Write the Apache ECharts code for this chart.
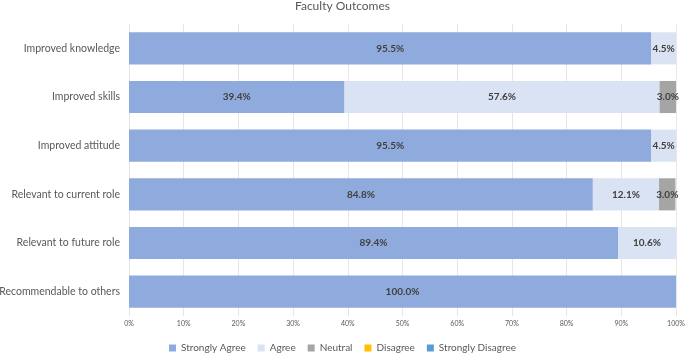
<!DOCTYPE html>
<html>
<head>
<meta charset="utf-8">
<script src="https://cdn.jsdelivr.net/npm/echarts@6/dist/echarts.min.js"></script>
<style>
  html, body { margin: 0; padding: 0; background: #fff; }
  #chart { width: 685px; height: 353px; }
</style>
</head>
<body>
<div id="chart"></div>
<script>
const categories = ['Improved knowledge', 'Improved skills', 'Improved attitude',
  'Relevant to current role', 'Relevant to future role', 'Recommendable to others'];
const stronglyAgree = [95.5, 39.4, 95.5, 84.8, 89.4, 100.0];
const agree = [4.5, 57.6, 4.5, 12.1, 10.6, 0];
const neutral = [0, 3.0, 0, 3.0, 0, 0];
const disagree = [0, 0, 0, 0, 0, 0];
const stronglyDisagree = [0, 0, 0, 0, 0, 0];
const tickLabels = ['0%', '10%', '20%', '30%', '40%', '50%', '60%', '70%', '80%', '90%', '100%'];

const font = 'Lato';
const chart = echarts.init(document.getElementById('chart'));

function bar(name, data, color) {
  return {
    name: name,
    type: 'bar',
    stack: 'total',
    data: data,
    barCategoryGap: '34%',
    itemStyle: { color: color },
    label: {
      show: true,
      position: 'inside',
      color: '#404040',
      fontFamily: font,
      fontWeight: 'bold',
      fontSize: 10,
      formatter: p => p.value > 0 ? p.value.toFixed(1) + '%' : ''
    }
  };
}

chart.setOption({
  animation: false,
  title: {
    text: 'Faculty Outcomes',
    left: 'center',
    top: 0,
    padding: [0, 5, 0, 5],
    textStyle: { fontFamily: font, fontSize: 12, fontWeight: 'normal', color: '#595959' }
  },
  legend: {
    bottom: 0,
    left: 'center',
    padding: [0, 5, 0, 5],
    itemWidth: 7,
    itemHeight: 7,
    itemGap: 12,
    icon: 'rect',
    textStyle: { fontFamily: font, fontSize: 10, color: '#595959' }
  },
  grid: { left: 129, right: 9, top: 24, bottom: 37, containLabel: false, outerBoundsMode: 'none' },
  xAxis: {
    type: 'value',
    min: 0,
    max: 100,
    interval: 10,
    axisLine: { show: false },
    axisTick: { show: false },
    splitLine: { lineStyle: { color: '#e6e6e6' } },
    axisLabel: {
      fontFamily: font, fontSize: 7, color: '#595959', margin: 4,
      formatter: v => tickLabels[Math.round(v / 10)]
    }
  },
  yAxis: {
    type: 'category',
    data: categories,
    inverse: true,
    axisLine: { show: false },
    axisTick: { show: false },
    axisLabel: { fontFamily: font, fontSize: 10.5, color: '#595959', margin: 9 }
  },
  series: [
    bar('Strongly Agree', stronglyAgree, '#8faadc'),
    bar('Agree', agree, '#dae3f3'),
    bar('Neutral', neutral, '#a5a5a5'),
    bar('Disagree', disagree, '#ffc000'),
    bar('Strongly Disagree', stronglyDisagree, '#5b9bd5')
  ]
});
</script>
</body>
</html>
